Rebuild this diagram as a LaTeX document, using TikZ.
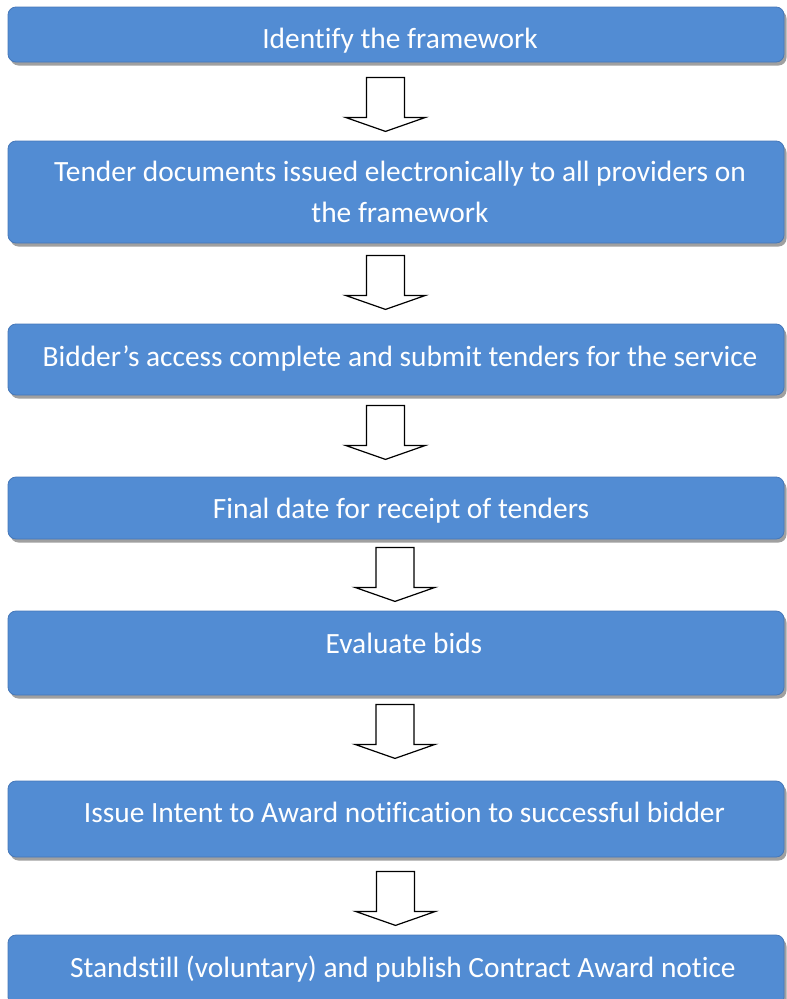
\documentclass[tikz,border=0pt]{standalone}
\usepackage{fontspec}
\setmainfont{Carlito}[Ligatures=NoCommon]
\usepackage{tikz}
\usetikzlibrary{calc,shadows}
\definecolor{boxblue}{RGB}{82,140,211}
\definecolor{boxedge}{RGB}{70,120,185}
\definecolor{boxshade}{RGB}{160,160,160}
\tikzset{
  stepbox/.style={draw=boxedge, line width=0.8pt, fill=boxblue, rounded corners=8pt,
    minimum width=776pt, text=white, align=center, inner sep=0pt,
    font=\fontsize{29.4}{41}\selectfont,
    drop shadow={shadow xshift=2.5pt, shadow yshift=-3.5pt, fill=boxshade, opacity=1}},
  arrowline/.style={draw=black, line width=1.2pt, fill=white, line join=miter}
}
\def\openarrow(#1){\draw[arrowline] ($(#1)+(-18.5,0)$) -- ++(0,40) -- ++(-21,0) -- ++(40,14) -- ++(40,-14) -- ++(-21,0) -- ++(0,-40) -- cycle;}
\def\steptext#1#2#3{\hspace*{#1pt}\raisebox{#2pt}[0pt][0pt]{#3}}

\begin{document}
\begin{tikzpicture}[x=1pt,y=-1pt]
		%%%%% START %%%%%
		
		\useasboundingbox (0,0) rectangle (787,999);
		\clip (0,0) rectangle (787,999);
		
		\node[stepbox, minimum height=55pt] (frame) at (396, 34.5) {\steptext{8}{-13.5}{Identify the framework}};
		\node[stepbox, minimum height=102pt] (tender) at (396, 192) {\hspace*{8pt}Tender documents issued electronically to all providers on\\\hspace*{8pt}the framework};
		\node[stepbox, minimum height=71pt] (bidders) at (396, 359.5) {\steptext{8}{-7}{Bidder’s access complete and submit tenders for the service}};
		\node[stepbox, minimum height=62pt] (finaldate) at (396, 508) {\steptext{10}{-10.5}{Final date for receipt of tenders}};
		\node[stepbox, minimum height=84pt] (evaluate) at (396, 653) {\steptext{16}{-0.5}{Evaluate bids}};
		\node[stepbox, minimum height=76pt] (intent) at (396, 819) {\steptext{17}{-3.5}{Issue Intent to Award notification to successful bidder}};
		\node[stepbox, minimum height=70pt] (standstill) at (396, 970) {\steptext{14}{-7.5}{Standstill (voluntary) and publish Contract Award notice}};
		
		\coordinate (a1) at ($(frame.south)+(-11,15)$);
		\coordinate (a2) at ($(tender.south)+(-11,12)$);
		\coordinate (a3) at ($(bidders.south)+(-11,10)$);
		\coordinate (a4) at ($(finaldate.south)+(-1.5,8)$);
		\coordinate (a5) at ($(evaluate.south)+(-1.5,9)$);
		\coordinate (a6) at ($(intent.south)+(-1,14)$);
		
		\openarrow(a1)
		\openarrow(a2)
		\openarrow(a3)
		\openarrow(a4)
		\openarrow(a5)
		\openarrow(a6)
		
		%%%%% END %%%%%
	\end{tikzpicture}
\end{document}
